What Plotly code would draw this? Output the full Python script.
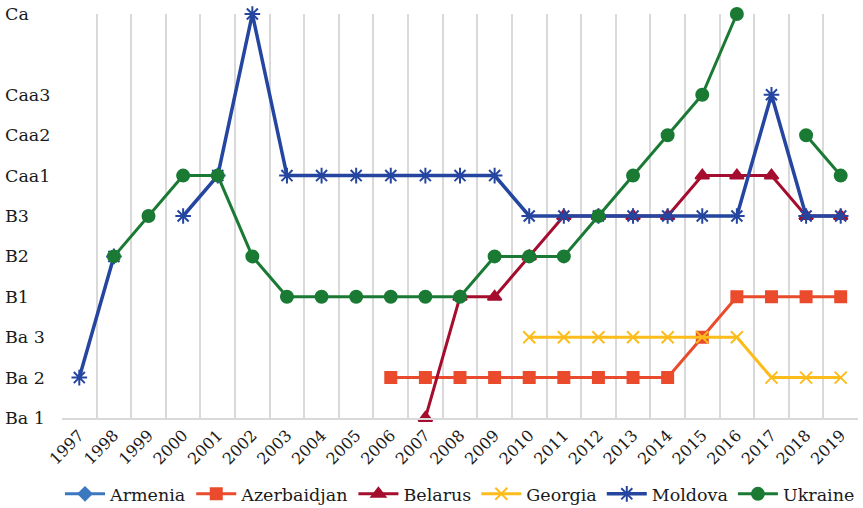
import plotly.graph_objects as go

years = list(range(1997, 2020))

rating_labels = ["Ba 1", "Ba 2", "Ba 3", "B1", "B2", "B3", "Caa1", "Caa2", "Caa3", "Ca"]
rating_levels = [1, 2, 3, 4, 5, 6, 7, 8, 9, 11]

N = None
armenia = [N] * 23
azerbaidjan = [N, N, N, N, N, N, N, N, N, 2, 2, 2, 2, 2, 2, 2, 2, 2, 3, 4, 4, 4, 4]
belarus = [N, N, N, N, N, N, N, N, N, N, 1, 4, 4, 5, 6, 6, 6, 6, 7, 7, 7, 6, 6]
georgia = [N, N, N, N, N, N, N, N, N, N, N, N, N, 3, 3, 3, 3, 3, 3, 3, 2, 2, 2]
moldova = [2, 5, N, 6, 7, 11, 7, 7, 7, 7, 7, 7, 7, 6, 6, 6, 6, 6, 6, 6, 9, 6, 6]
ukraine = [N, 5, 6, 7, 7, 5, 4, 4, 4, 4, 4, 4, 5, 5, 5, 6, 7, 8, 9, 11, N, 8, 7]

FONT = "DejaVu Serif"

series = [
    ("Armenia", armenia, "#3C78C0", "diamond", 10, 3),
    ("Azerbaidjan", azerbaidjan, "#EA4B2C", "square", 11, 3),
    ("Belarus", belarus, "#A50D2E", "triangle-up", 12, 3),
    ("Georgia", georgia, "#FBBC1C", "x-thin-open", 12, 3),
    ("Moldova", moldova, "#2445A0", "asterisk-open", 13, 3.5),
    ("Ukraine", ukraine, "#1A7A34", "circle", 12, 3),
]

fig = go.Figure()
for name, vals, color, symbol, size, width in series:
    fig.add_trace(go.Scatter(
        x=years, y=vals, name=name, mode="lines+markers",
        line=dict(color=color, width=width),
        marker=dict(symbol=symbol, size=size, color=color,
                    line=dict(color=color, width=2)),
        cliponaxis=False, connectgaps=False,
    ))

# rating names drawn as left-aligned labels beside the y axis
for lab, lev in zip(rating_labels, rating_levels):
    fig.add_annotation(
        x=0, xref="paper", xshift=-59, y=lev, yref="y",
        text=lab, showarrow=False, xanchor="left", yanchor="middle",
        font=dict(family=FONT, size=17.5, color="#1a1a1a"),
    )

fig.update_layout(
    width=863, height=508,
    margin=dict(l=62, r=5, t=14, b=90, autoexpand=False),
    paper_bgcolor="white", plot_bgcolor="white",
    showlegend=True,
    legend=dict(orientation="h", x=0.5, xanchor="center", y=-0.188, yanchor="middle",
                font=dict(family=FONT, size=17.5, color="#1a1a1a"),
                itemwidth=40, tracegroupgap=0),
    font=dict(family=FONT, color="#1a1a1a"),
)
fig.update_xaxes(
    range=[1996.5, 2019.5], tickmode="array", tickvals=years,
    ticktext=[str(y) for y in years], tickangle=-45, automargin=False,
    tickfont=dict(family=FONT, size=16, color="#1a1a1a"),
    showgrid=False, zeroline=False,
    showline=True, linecolor="#d9d9d9", linewidth=1.5, ticks="",
    minor=dict(tickvals=[y - 0.5 for y in years] + [2019.5],
               showgrid=True, gridcolor="#d9d9d9", gridwidth=1.5),
)
fig.update_yaxes(
    range=[1, 11], showticklabels=False, showgrid=False, zeroline=False,
    showline=False, ticks="", automargin=False,
)

fig.write_html("out.html")
